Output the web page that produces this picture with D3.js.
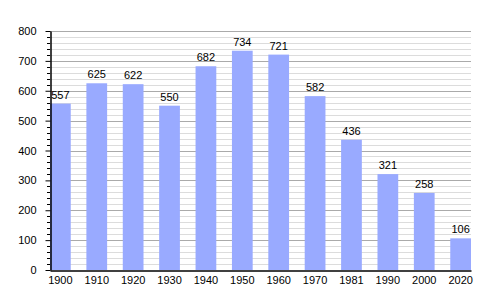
<script src="https://d3js.org/d3.v7.min.js"></script>
<style>
  body { margin: 0; background: #fff; }
  text { font-family: "Liberation Sans", Arial, sans-serif; font-size: 11px; fill: #000; }
</style>
<svg id="vis" width="500" height="300"></svg>
<script>
  // data
  var years = ["1900", "1910", "1920", "1930", "1940", "1950", "1960", "1970", "1981", "1990", "2000", "2020"];
  var population = [557, 625, 622, 550, 682, 734, 721, 582, 436, 321, 258, 106];
  var majorTicks = [0, 100, 200, 300, 400, 500, 600, 700, 800];

  var svg = d3.select("#vis");

  var plotLeft = 50, plotRight = 471, plotTop = 31, plotBottom = 270;

  var x = d3.scaleBand()
      .domain(years)
      .range([plotLeft, plotRight])
      .paddingInner(0.43)
      .paddingOuter(0);

  var y = d3.scaleLinear()
      .domain([0, 800])
      .range([plotBottom, plotTop]);

  var minorTicks = d3.range(0, 801, 20).filter(function(v) { return v % 100 != 0; });

  // minor grid
  svg.append("g").selectAll("line")
    .data(minorTicks)
    .enter().append("line")
      .attr("x1", plotLeft).attr("x2", plotRight)
      .attr("y1", function(d) { return Math.round(y(d)) + 0.5; })
      .attr("y2", function(d) { return Math.round(y(d)) + 0.5; })
      .attr("stroke", "#dcdcdc");

  // major grid
  svg.append("g").selectAll("line")
    .data(majorTicks.filter(function(d) { return d > 0; }))
    .enter().append("line")
      .attr("x1", plotLeft).attr("x2", plotRight)
      .attr("y1", function(d) { return Math.round(y(d)) + 0.5; })
      .attr("y2", function(d) { return Math.round(y(d)) + 0.5; })
      .attr("stroke", "#aaaaaa");

  // bars
  svg.append("g").selectAll("rect")
    .data(population)
    .enter().append("rect")
      .attr("x", function(d, i) { return x(years[i]); })
      .attr("y", function(d) { return y(d); })
      .attr("width", x.bandwidth())
      .attr("height", function(d) { return plotBottom - y(d); })
      .attr("fill", "#99aaff");

  // value labels
  svg.append("g").selectAll("text")
    .data(population)
    .enter().append("text")
      .attr("x", function(d, i) { return x(years[i]) + x.bandwidth() / 2; })
      .attr("y", function(d) { return y(d) - 5; })
      .attr("text-anchor", "middle")
      .text(function(d) { return d; });

  // y axis: minor ticks
  svg.append("g").selectAll("line")
    .data(minorTicks)
    .enter().append("line")
      .attr("x1", plotLeft - 3).attr("x2", plotLeft)
      .attr("y1", function(d) { return Math.round(y(d)) + 0.5; })
      .attr("y2", function(d) { return Math.round(y(d)) + 0.5; })
      .attr("stroke", "#000");

  var yAxis = svg.append("g")
      .attr("transform", "translate(" + (plotLeft + 0.5) + ",0)")
      .call(d3.axisLeft(y).tickValues(majorTicks).tickSize(5).tickPadding(9).tickSizeOuter(0));
  yAxis.select(".domain").attr("stroke", "#000").attr("stroke-width", 1.5);
  yAxis.selectAll("text").style("font-size", "11px").attr("fill", "#000");
  yAxis.selectAll("line").attr("stroke", "#000");

  // x axis
  var xAxis = svg.append("g")
      .attr("transform", "translate(0," + (plotBottom + 0.5) + ")")
      .call(d3.axisBottom(x).tickSize(0).tickPadding(6).tickSizeOuter(0));
  xAxis.select(".domain").attr("stroke", "#000").attr("stroke-width", 1.5);
  xAxis.selectAll("text").style("font-size", "11px").attr("fill", "#000");
</script>
